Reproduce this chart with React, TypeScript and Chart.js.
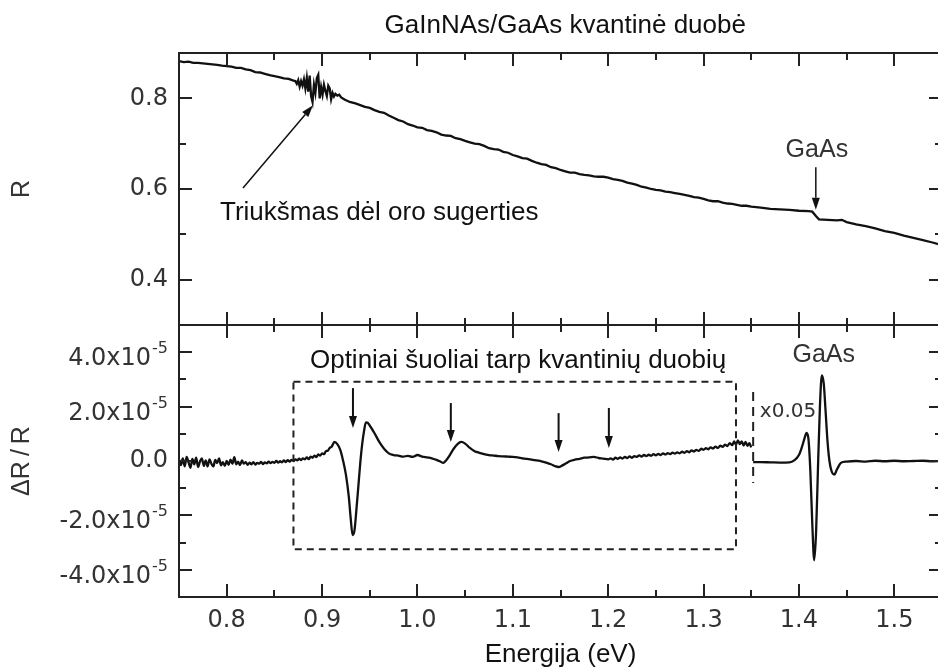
import { useEffect, useRef } from "react";
import { Chart, registerables } from "chart.js";

Chart.register(...registerables);

const SANS = '"Liberation Sans", Arial, sans-serif';
const AXIS_FONT = '"DejaVu Sans", sans-serif';
const INK = "#111";
const AXIS_INK = "#333";

// Reflectance R versus photon energy (eV)
const rEnergy = [
  0.75, 0.755, 0.76, 0.765, 0.77, 0.775, 0.78, 0.785, 0.79, 0.795, 0.8, 0.805, 0.81, 0.815, 0.82, 0.825,
  0.83, 0.835, 0.84, 0.845, 0.85, 0.855, 0.86, 0.865, 0.87,
  0.872, 0.8735, 0.875, 0.8765, 0.878, 0.8795, 0.881, 0.8825, 0.884, 0.8855, 0.887, 0.8885, 0.89, 0.8915,
  0.893, 0.8945, 0.896, 0.8975, 0.899, 0.9005, 0.902, 0.9035, 0.905, 0.9065, 0.908, 0.9095, 0.911, 0.9125,
  0.914, 0.916, 0.918, 0.92, 0.924, 0.929, 0.935,
  0.94, 0.945, 0.95, 0.955, 0.96, 0.965, 0.97, 0.975, 0.98, 0.985, 0.99, 0.995, 1.0, 1.005, 1.01, 1.015,
  1.02, 1.025, 1.03, 1.035, 1.04, 1.045, 1.05, 1.055, 1.06, 1.065, 1.07, 1.075, 1.08, 1.085, 1.09, 1.095,
  1.1, 1.105, 1.11, 1.115, 1.12, 1.125, 1.13, 1.135, 1.14, 1.145, 1.15, 1.155, 1.16, 1.165, 1.17, 1.175,
  1.18, 1.185, 1.19, 1.195, 1.2, 1.205, 1.21, 1.215, 1.22, 1.225, 1.23, 1.235, 1.24, 1.245, 1.25, 1.255,
  1.26, 1.265, 1.27, 1.275, 1.28, 1.285, 1.29, 1.295, 1.3, 1.305, 1.31, 1.315, 1.32, 1.325, 1.33, 1.335,
  1.34, 1.345, 1.35, 1.36, 1.37, 1.38, 1.39, 1.4, 1.41, 1.414, 1.418, 1.421, 1.43, 1.44, 1.445, 1.45,
  1.46, 1.47, 1.48, 1.49, 1.5, 1.51, 1.52, 1.53, 1.54, 1.55,
];
const rValue = [
  0.882, 0.880, 0.881, 0.878, 0.878, 0.877, 0.876, 0.875, 0.874, 0.872, 0.871, 0.870, 0.867, 0.867, 0.864, 0.862,
  0.858, 0.857, 0.854, 0.851, 0.849, 0.847, 0.844, 0.843, 0.839,
  0.838, 0.832, 0.840, 0.826, 0.838, 0.828, 0.842, 0.822, 0.845, 0.815, 0.850, 0.805, 0.792, 0.830,
  0.812, 0.845, 0.852, 0.800, 0.825, 0.808, 0.830, 0.816, 0.805, 0.828, 0.822, 0.798, 0.812, 0.804,
  0.810, 0.806, 0.808, 0.802, 0.797, 0.792, 0.789,
  0.785, 0.781, 0.779, 0.774, 0.770, 0.768, 0.762, 0.757, 0.752, 0.749, 0.743, 0.740, 0.736, 0.735, 0.730, 0.728,
  0.725, 0.720, 0.718, 0.717, 0.712, 0.710, 0.706, 0.703, 0.700, 0.699, 0.695, 0.690, 0.688, 0.687, 0.682, 0.680,
  0.675, 0.672, 0.668, 0.667, 0.662, 0.658, 0.655, 0.653, 0.648, 0.646, 0.642, 0.639, 0.636, 0.636, 0.633, 0.631,
  0.630, 0.628, 0.627, 0.627, 0.625, 0.622, 0.620, 0.618, 0.614, 0.612, 0.609, 0.605, 0.603, 0.600, 0.598, 0.597,
  0.594, 0.593, 0.591, 0.589, 0.587, 0.585, 0.582, 0.581, 0.578, 0.575, 0.573, 0.573, 0.570, 0.568, 0.567, 0.565,
  0.563, 0.563, 0.561, 0.559, 0.556, 0.555, 0.554, 0.552, 0.551, 0.550, 0.540, 0.533, 0.532, 0.531, 0.532, 0.527,
  0.522, 0.518, 0.513, 0.507, 0.503, 0.497, 0.492, 0.487, 0.482, 0.476,
];

// Modulation spectrum ΔR/R in units of 1e-5, quantum-well part
const drEnergy = [
  0.75, 0.752, 0.754, 0.756, 0.758, 0.76, 0.762, 0.764, 0.766, 0.768, 0.77, 0.772, 0.774, 0.776, 0.778,
  0.78, 0.782, 0.784, 0.786, 0.788, 0.79, 0.792, 0.794, 0.796, 0.798, 0.8, 0.802, 0.804, 0.806, 0.808,
  0.81, 0.812, 0.814, 0.816, 0.818, 0.82, 0.822, 0.824, 0.826, 0.828, 0.83, 0.832, 0.834, 0.836, 0.838,
  0.84, 0.842, 0.844, 0.846, 0.848, 0.85, 0.852, 0.854, 0.856, 0.858, 0.86, 0.862, 0.864, 0.866, 0.868,
  0.87, 0.872, 0.874, 0.876, 0.878, 0.88, 0.882, 0.884, 0.886, 0.888, 0.89, 0.892, 0.894, 0.896, 0.898,
  0.9, 0.902, 0.904, 0.906, 0.908, 0.91, 0.913, 0.916, 0.919, 0.922,
  0.925, 0.928, 0.93, 0.932, 0.934, 0.936, 0.938, 0.94, 0.942, 0.944, 0.946, 0.948, 0.951, 0.955, 0.96,
  0.965, 0.97, 0.975, 0.98, 0.985, 0.99, 0.995, 1.0, 1.005, 1.01, 1.015, 1.02, 1.024, 1.027, 1.03, 1.034,
  1.038, 1.042, 1.046, 1.05, 1.055, 1.06, 1.065, 1.07, 1.075, 1.08, 1.085, 1.09, 1.095, 1.1, 1.105, 1.11,
  1.115, 1.12, 1.125, 1.13, 1.135, 1.14, 1.145, 1.148, 1.152, 1.156, 1.16, 1.165, 1.17, 1.175, 1.18, 1.185,
  1.19, 1.195, 1.2, 1.2025, 1.205, 1.2075, 1.21, 1.2125, 1.215, 1.2175, 1.22, 1.2225, 1.225, 1.2275, 1.23,
  1.2325, 1.235, 1.2375, 1.24, 1.2425, 1.245, 1.2475, 1.25, 1.2525, 1.255, 1.2575, 1.26, 1.2625, 1.265,
  1.2675, 1.27, 1.2725, 1.275, 1.2775, 1.28, 1.2825, 1.285, 1.2875, 1.29, 1.2925, 1.295, 1.2975, 1.3,
  1.3025, 1.305, 1.3075, 1.31, 1.3125, 1.315, 1.3175, 1.32, 1.3225, 1.325, 1.3275, 1.33, 1.332, 1.334,
  1.336, 1.338, 1.34, 1.342, 1.344, 1.346, 1.348, 1.35,
];
const drValue = [
  0.05, -0.15, 0.1, -0.2, 0.15, -0.05, -0.25, 0.08, -0.12, 0.12, -0.22, -0.02, 0.1, -0.18, 0.02,
  -0.2, 0.06, -0.1, -0.2, 0.04, -0.08, 0.1, -0.16, -0.04, -0.18, 0.0, -0.14, 0.05, -0.1, 0.14,
  -0.12, -0.02, -0.15, 0.02, -0.1, -0.04, -0.14, -0.06, -0.12, -0.04, -0.13, -0.07, -0.1, -0.03, -0.11,
  -0.05, -0.09, -0.02, -0.08, -0.03, -0.07, 0.0, -0.06, -0.01, -0.05, 0.02, -0.04, 0.03, -0.02, 0.04,
  0.0, 0.06, 0.02, 0.09, 0.03, 0.1, 0.06, 0.13, 0.07, 0.16, 0.12, 0.2, 0.14, 0.24, 0.2,
  0.28, 0.25, 0.36, 0.38, 0.48, 0.52, 0.7, 0.62, 0.42, 0.02,
  -0.5, -1.3, -2.1, -2.72, -2.55, -1.8, -0.95, -0.1, 0.6, 1.1, 1.42, 1.4, 1.25, 1.02, 0.7,
  0.45, 0.28, 0.22, 0.2, 0.16, 0.19, 0.15, 0.22, 0.16, 0.13, 0.1, 0.04, -0.02, -0.07, 0.02, 0.22,
  0.45, 0.62, 0.7, 0.64, 0.48, 0.36, 0.3, 0.25, 0.22, 0.2, 0.18, 0.17, 0.16, 0.15, 0.13, 0.1,
  0.08, 0.05, 0.02, -0.01, -0.06, -0.12, -0.2, -0.22, -0.16, -0.08, 0.0, 0.05, 0.08, 0.12, 0.13, 0.15,
  0.11, 0.09, 0.06, 0.1, 0.05, 0.12, 0.08, 0.13, 0.09, 0.15, 0.11, 0.17, 0.12, 0.18, 0.15,
  0.21, 0.16, 0.22, 0.18, 0.23, 0.19, 0.25, 0.21, 0.26, 0.22, 0.28, 0.24, 0.29, 0.25,
  0.31, 0.27, 0.32, 0.28, 0.34, 0.3, 0.36, 0.32, 0.39, 0.35, 0.41, 0.37, 0.45, 0.41,
  0.47, 0.43, 0.5, 0.46, 0.53, 0.48, 0.56, 0.52, 0.6, 0.55, 0.66, 0.58, 0.72, 0.6,
  0.76, 0.62, 0.72, 0.57, 0.7, 0.56, 0.66, 0.5,
];

// GaAs band-edge part, plotted multiplied by 0.05 (units of 1e-5)
const gaasEnergy = [
  1.352, 1.36, 1.37, 1.38, 1.39, 1.395, 1.4, 1.403, 1.406, 1.408, 1.41, 1.412, 1.414, 1.416, 1.418, 1.42,
  1.422, 1.424, 1.426, 1.428, 1.43, 1.432, 1.434, 1.437, 1.44, 1.444, 1.45, 1.46, 1.47, 1.48, 1.49, 1.5,
  1.51, 1.52, 1.53, 1.54, 1.55,
];
const gaasValue = [
  -0.04, -0.04, -0.05, -0.06, -0.05, 0.02, 0.22, 0.5, 0.85, 1.03, 0.8, -0.4, -2.3, -3.65, -2.6, -0.2,
  2.0, 3.15, 2.85, 1.8, 0.7, 0.0, -0.35, -0.5, -0.3, -0.07, -0.02, 0.0, -0.02, 0.01, -0.01, 0.01,
  -0.01, 0.0, 0.01, -0.01, 0.0,
];

// Axis ranges and tick values
const xRange = [0.75, 1.55];
const xMajorTicks = [0.8, 0.9, 1.0, 1.1, 1.2, 1.3, 1.4, 1.5];
const xMinorTicks = [0.85, 0.95, 1.05, 1.15, 1.25, 1.35, 1.45];
const rRange = [0.3, 0.9];
const rMajorTicks = [0.4, 0.6, 0.8];
const rMinorTicks = [0.5, 0.7];
const drRange = [-5, 5];
const drMajorTicks = [-4, -2, 0, 2, 4];
const drMinorTicks = [-3, -1, 1, 3];

// Annotation anchors (energy, value)
const titleText = "GaInNAs/GaAs kvantinė duobė";
const titleAnchorE = 1.155;
const noiseNote = { text: "Triukšmas dėl oro sugerties", e: 0.793, v: 0.5315 };
const noiseArrow = { e0: 0.8171, v0: 0.602, e1: 0.8905, v1: 0.7846 };
const gaasTopNote = { text: "GaAs", e: 1.4188, v: 0.67 };
const gaasTopArrow = { e: 1.4177, v0: 0.648, v1: 0.554 };
const transitionNote = { text: "Optiniai šuoliai tarp kvantinių duobių", e: 0.8873, v: 3.42 };
const transitionBox = { e0: 0.87, e1: 1.334, v0: -3.24, v1: 2.91 };
const transitionArrowE = [0.9324, 1.035, 1.148, 1.2007];
const transitionArrowTop = [2.68, 2.13, 1.76, 1.95];
const transitionArrowTip = [1.21, 0.7, 0.33, 0.48];
const scaleSplit = { e: 1.352, v0: 2.54, v1: -0.81 };
const scaleNote = { text: "x0.05", e: 1.359, v: 1.62 };
const gaasBottomNote = { text: "GaAs", e: 1.426, v: 3.64 };

function toPoints(xs: number[], ys: number[]) {
  return xs.map((x, i) => ({ x, y: ys[i] }));
}

function arrow(ctx: CanvasRenderingContext2D, x0: number, y0: number, x1: number, y1: number, lw: number) {
  const ang = Math.atan2(y1 - y0, x1 - x0);
  const head = 12;
  const half = 4;
  const bx = x1 - head * Math.cos(ang);
  const by = y1 - head * Math.sin(ang);
  ctx.lineWidth = lw;
  ctx.beginPath();
  ctx.moveTo(x0, y0);
  ctx.lineTo(bx, by);
  ctx.stroke();
  ctx.beginPath();
  ctx.moveTo(x1, y1);
  ctx.lineTo(bx + half * Math.sin(ang), by - half * Math.cos(ang));
  ctx.lineTo(bx - half * Math.sin(ang), by + half * Math.cos(ang));
  ctx.closePath();
  ctx.fill();
}

const framePlugin = {
  id: "frameAndNotes",
  afterDraw(chart: any) {
    const { ctx, chartArea: a, scales } = chart;
    const x = scales.x;
    const yR = scales.yR;
    const yD = scales.yD;
    const mid = yR.bottom;
    ctx.save();
    ctx.strokeStyle = "#222";
    ctx.fillStyle = "#222";
    ctx.lineWidth = 2;
    ctx.lineCap = "butt";

    const seg = (x0: number, y0: number, x1: number, y1: number) => {
      ctx.beginPath();
      ctx.moveTo(x0, y0);
      ctx.lineTo(x1, y1);
      ctx.stroke();
    };

    // panel frames
    ctx.strokeRect(a.left, a.top, a.right - a.left, a.bottom - a.top);
    seg(a.left, mid, a.right, mid);

    // energy ticks on every horizontal edge, pointing inward
    const xTick = (v: number, len: number) => {
      const px = Math.round(x.getPixelForValue(v));
      seg(px, a.top, px, a.top + len);
      seg(px, mid, px, mid - len);
      seg(px, mid, px, mid + len);
      seg(px, a.bottom, px, a.bottom - len);
    };
    xMajorTicks.forEach((v) => xTick(v, 13));
    xMinorTicks.forEach((v) => xTick(v, 7));

    const yTick = (scale: any, v: number, len: number) => {
      const py = Math.round(scale.getPixelForValue(v));
      seg(a.left, py, a.left + len, py);
      seg(a.right, py, a.right - len, py);
    };
    rMajorTicks.forEach((v) => yTick(yR, v, 13));
    rMinorTicks.forEach((v) => yTick(yR, v, 7));
    drMajorTicks.forEach((v) => yTick(yD, v, 13));
    drMinorTicks.forEach((v) => yTick(yD, v, 7));

    // ΔR/R tick labels with the power-of-ten superscript
    ctx.fillStyle = AXIS_INK;
    ctx.textAlign = "right";
    const labelRight = a.left - 11;
    drMajorTicks.forEach((v) => {
      const py = yD.getPixelForValue(v);
      ctx.font = `24px ${AXIS_FONT}`;
      if (v === 0) {
        ctx.textBaseline = "middle";
        ctx.fillText("0.0", labelRight, py);
        return;
      }
      ctx.textBaseline = "alphabetic";
      ctx.font = `16px ${AXIS_FONT}`;
      const sup = "-5";
      const supW = ctx.measureText(sup).width;
      ctx.fillText(sup, labelRight, py + 1);
      ctx.font = `24px ${AXIS_FONT}`;
      ctx.fillText(`${v.toFixed(1)}x10`, labelRight - supW - 1, py + 13);
    });

    // title
    ctx.fillStyle = INK;
    ctx.textAlign = "center";
    ctx.textBaseline = "alphabetic";
    ctx.font = `26px ${SANS}`;
    ctx.fillText(titleText, x.getPixelForValue(titleAnchorE), a.top - 20);

    // reflectance panel notes
    ctx.textAlign = "left";
    ctx.fillText(noiseNote.text, x.getPixelForValue(noiseNote.e), yR.getPixelForValue(noiseNote.v));
    ctx.strokeStyle = INK;
    ctx.fillStyle = INK;
    arrow(
      ctx,
      x.getPixelForValue(noiseArrow.e0),
      yR.getPixelForValue(noiseArrow.v0),
      x.getPixelForValue(noiseArrow.e1),
      yR.getPixelForValue(noiseArrow.v1),
      1.5,
    );
    ctx.fillStyle = AXIS_INK;
    ctx.textAlign = "center";
    ctx.font = `25px ${SANS}`;
    ctx.fillText(gaasTopNote.text, x.getPixelForValue(gaasTopNote.e), yR.getPixelForValue(gaasTopNote.v));
    ctx.fillStyle = INK;
    const gx = x.getPixelForValue(gaasTopArrow.e);
    arrow(ctx, gx, yR.getPixelForValue(gaasTopArrow.v0), gx, yR.getPixelForValue(gaasTopArrow.v1), 1.5);

    // modulation panel notes
    ctx.textAlign = "left";
    ctx.font = `26px ${SANS}`;
    ctx.fillText(transitionNote.text, x.getPixelForValue(transitionNote.e), yD.getPixelForValue(transitionNote.v));
    transitionArrowE.forEach((e, i) => {
      const px = x.getPixelForValue(e);
      arrow(ctx, px, yD.getPixelForValue(transitionArrowTop[i]), px, yD.getPixelForValue(transitionArrowTip[i]), 2);
    });

    ctx.strokeStyle = "#222";
    ctx.lineWidth = 2;
    ctx.setLineDash([7, 5]);
    const bx0 = x.getPixelForValue(transitionBox.e0);
    const bx1 = x.getPixelForValue(transitionBox.e1);
    const by0 = yD.getPixelForValue(transitionBox.v1);
    const by1 = yD.getPixelForValue(transitionBox.v0);
    ctx.strokeRect(bx0, by0, bx1 - bx0, by1 - by0);
    ctx.setLineDash([9, 6]);
    const sx = x.getPixelForValue(scaleSplit.e);
    seg(sx, yD.getPixelForValue(scaleSplit.v0), sx, yD.getPixelForValue(scaleSplit.v1));
    ctx.setLineDash([]);

    ctx.fillStyle = AXIS_INK;
    ctx.textAlign = "left";
    ctx.font = `20px ${AXIS_FONT}`;
    ctx.fillText(scaleNote.text, x.getPixelForValue(scaleNote.e), yD.getPixelForValue(scaleNote.v));
    ctx.textAlign = "center";
    ctx.font = `25px ${SANS}`;
    ctx.fillText(gaasBottomNote.text, x.getPixelForValue(gaasBottomNote.e), yD.getPixelForValue(gaasBottomNote.v));
    ctx.restore();
  },
};

export default function App() {
  const canvasRef = useRef<HTMLCanvasElement | null>(null);

  useEffect(() => {
    const canvas = canvasRef.current;
    if (!canvas) return;
    const lineStyle = {
      borderColor: INK,
      borderWidth: 2.3,
      pointRadius: 0,
      fill: false,
      xAxisID: "x",
    };
    const chart = new Chart(canvas, {
      type: "line",
      data: {
        datasets: [
          { ...lineStyle, label: "R", data: toPoints(rEnergy, rValue), yAxisID: "yR", tension: 0 },
          {
            ...lineStyle,
            label: "ΔR/R",
            data: toPoints(drEnergy, drValue),
            yAxisID: "yD",
            cubicInterpolationMode: "monotone",
          },
          {
            ...lineStyle,
            label: "ΔR/R x0.05",
            data: toPoints(gaasEnergy, gaasValue),
            yAxisID: "yD",
            cubicInterpolationMode: "monotone",
          },
        ],
      } as any,
      options: {
        responsive: false,
        animation: false,
        events: [],
        layout: { padding: { left: 0, top: 53, right: 3, bottom: 0 } },
        plugins: { legend: { display: false }, tooltip: { enabled: false } },
        scales: {
          x: {
            type: "linear",
            position: "bottom",
            min: xRange[0],
            max: xRange[1],
            grid: { display: false, drawTicks: false },
            border: { display: false },
            afterBuildTicks: (s: any) => {
              s.ticks = xMajorTicks.map((value) => ({ value }));
            },
            afterFit: (s: any) => {
              s.height = 73;
            },
            ticks: {
              padding: 9,
              color: AXIS_INK,
              font: { family: AXIS_FONT, size: 24 },
              autoSkip: false,
              maxRotation: 0,
              callback: (v: any) => Number(v).toFixed(1),
            },
            title: {
              display: true,
              text: "Energija (eV)",
              color: INK,
              font: { family: SANS, size: 26 },
              padding: { top: 0, bottom: 0 },
            },
          },
          yR: {
            type: "linear",
            position: "left",
            stack: "panels",
            stackWeight: 1,
            weight: 2,
            min: rRange[0],
            max: rRange[1],
            grid: { display: false, drawTicks: false },
            border: { display: false },
            afterBuildTicks: (s: any) => {
              s.ticks = rMajorTicks.map((value) => ({ value }));
            },
            afterFit: (s: any) => {
              s.width = 179;
            },
            ticks: {
              padding: 11,
              color: AXIS_INK,
              font: { family: AXIS_FONT, size: 24 },
              callback: (v: any) => Number(v).toFixed(1),
            },
            title: {
              display: true,
              text: "R",
              color: AXIS_INK,
              font: { family: SANS, size: 25 },
              padding: { top: 7, bottom: 0 },
            },
          },
          yD: {
            type: "linear",
            position: "left",
            stack: "panels",
            stackWeight: 1,
            weight: 1,
            min: drRange[0],
            max: drRange[1],
            grid: { display: false, drawTicks: false },
            border: { display: false },
            afterFit: (s: any) => {
              s.width = 179;
            },
            ticks: { display: false },
            title: {
              display: true,
              text: "ΔR\u2009/\u2009R",
              color: AXIS_INK,
              font: { family: SANS, size: 25 },
              padding: { top: 7, bottom: 0 },
            },
          },
        },
      } as any,
      plugins: [framePlugin],
    });
    return () => chart.destroy();
  }, []);

  return (
    <div
      style={{
        position: "absolute",
        left: 0,
        top: 0,
        width: 938,
        height: 670,
        overflow: "hidden",
        background: "#fff",
      }}
    >
      <canvas ref={canvasRef} width={945} height={670} style={{ display: "block", width: 945, height: 670 }} />
    </div>
  );
}
